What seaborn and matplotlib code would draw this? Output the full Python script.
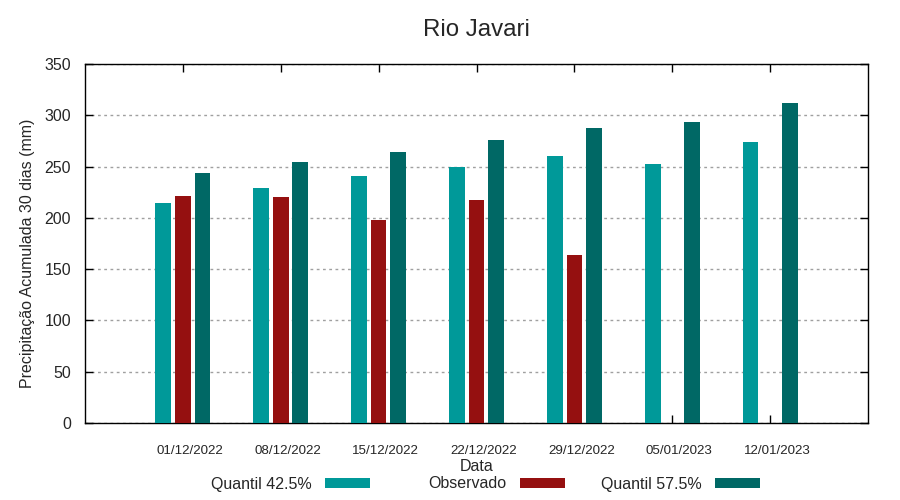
import numpy as np
import pandas as pd
import matplotlib
matplotlib.use("Agg")
import matplotlib.pyplot as plt
import matplotlib.patches as mpatches
import matplotlib.transforms as mtransforms
import seaborn as sns

# Data
datas = ["01/12/2022", "08/12/2022", "15/12/2022", "22/12/2022",
         "29/12/2022", "05/01/2023", "12/01/2023"]
quantil_425 = [214.5, 229, 241, 249.5, 260.5, 252.5, 274]
observado = [221.5, 220.5, 198, 217.5, 164, np.nan, np.nan]
quantil_575 = [244, 254.5, 264, 276, 287.5, 293.5, 312]

series = ["Quantil 42.5%", "Observado", "Quantil 57.5%"]
cores = ["#009999", "#951010", "#006865"]

df = pd.DataFrame({
    "Data": datas * 3,
    "Serie": np.repeat(series, len(datas)),
    "Valor": quantil_425 + observado + quantil_575,
})

sns.set_theme(style="white")
plt.rcParams["font.family"] = ["Liberation Sans", "DejaVu Sans"]

fig, ax = plt.subplots(figsize=(9, 5), dpi=100)
fig.subplots_adjust(left=85 / 900, right=868 / 900, top=1 - 64 / 500, bottom=1 - 423 / 500)

sns.barplot(data=df, x="Data", y="Valor", hue="Serie", hue_order=series,
            order=datas, palette=cores, width=0.6, gap=0.2, errorbar=None,
            saturation=1, legend=False, linewidth=0, ax=ax, zorder=3)

ax.set_xlim(-1, 7)
ax.set_ylim(0, 350)
ax.set_yticks(range(0, 351, 50))
ax.yaxis.grid(True, color="#a0a0a0", linestyle=(0, (2, 2.5)), linewidth=1, zorder=0)
ax.set_axisbelow(True)

for s in ax.spines.values():
    s.set_color("black")
    s.set_linewidth(1)

ax.tick_params(axis="x", direction="in", length=6, width=1, color="black",
               top=True, bottom=True, labelsize=9.6, pad=16)
ax.tick_params(axis="y", direction="in", length=6, width=1, color="black",
               left=True, right=True, labelsize=11.5, pad=10)

# gnuplot puts the date labels a little to the right of the tick
desloc = mtransforms.ScaledTranslation(0.07, 0, fig.dpi_scale_trans)
for lbl in ax.get_xticklabels():
    lbl.set_transform(lbl.get_transform() + desloc)

ax.set_title("Rio Javari", fontsize=17.3, pad=20)
ax.set_xlabel("Data", fontsize=11.5, labelpad=1)
ax.set_ylabel("Precipitação Acumulada 30 dias (mm)", fontsize=11.5)
ax.yaxis.set_label_coords(-0.064, 0.472)

# legend row: text then colour sample, gnuplot style
fim = [370, 565, 760]
for nome, cor, x in zip(series, cores, fim):
    h = mpatches.Patch(facecolor=cor, edgecolor="none")
    fig.legend(handles=[h], labels=[nome], loc="center right",
               bbox_to_anchor=(x / 900, 1 - 484 / 500), frameon=False,
               markerfirst=False, fontsize=11.5, handlelength=2.8,
               handleheight=0.55, handletextpad=0.85, borderpad=0,
               borderaxespad=0)

fig.savefig("out.png", dpi=100)
